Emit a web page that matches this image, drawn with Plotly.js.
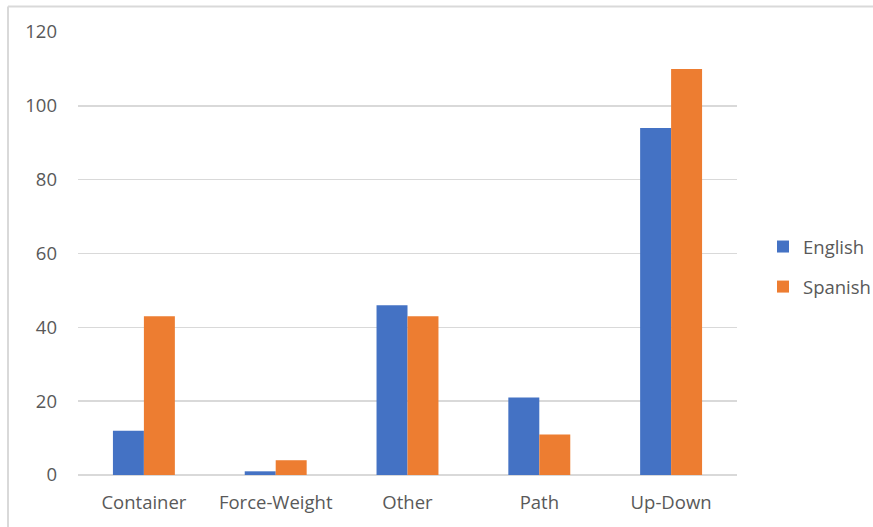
<!DOCTYPE html>
<html>
<head>
<meta charset="utf-8">
<script src="https://cdn.plot.ly/plotly-3.0.1.min.js"></script>
<style>
html, body { margin: 0; padding: 0; background: #fff; }
#chart { width: 873px; height: 527px; }
</style>
</head>
<body>
<div id="chart"></div>
<script>
const categories = ["Container", "Force-Weight", "Other", "Path", "Up-Down"];
const englishValues = [12, 1, 46, 21, 94];
const spanishValues = [43, 4, 43, 11, 110];
const yTicks = [0, 20, 40, 60, 80, 100, 120];

const W = 873, H = 527;
const L = 78, R = 737, T = 31.5, B = 475.5;
const px = x => (x - L) / (R - L);
const py = y => (B - y) / (B - T);

const textColor = "#595959";
const font = "Open Sans, Liberation Sans, Arial, sans-serif";
const fs = 18.5;

const data = [
  { type: "bar", name: "English", x: categories, y: englishValues,
    marker: { color: "#4472C4" }, legendgroup: "a", hoverinfo: "x+y+name" },
  { type: "bar", name: "Spanish", x: categories, y: spanishValues,
    marker: { color: "#ED7D31" }, legendgroup: "b", hoverinfo: "x+y+name" }
];

const layout = {
  width: W, height: H,
  margin: { l: L, r: W - R, t: T, b: H - B, pad: 0 },
  paper_bgcolor: "#fff", plot_bgcolor: "#fff",
  barmode: "group", bargap: 0.53, bargroupgap: 0,
  font: { family: font, size: fs, color: textColor },
  xaxis: {
    showgrid: false, zeroline: false, showline: false, ticks: "",
    tickfont: { family: font, size: fs, color: textColor },
    ticklabelstandoff: 14, fixedrange: true, automargin: false
  },
  yaxis: {
    range: [0, 120], tickvals: yTicks, ticktext: yTicks.map(String),
    showgrid: true, gridcolor: "#d9d9d9", gridwidth: 1.5,
    zeroline: true, zerolinecolor: "#d9d9d9", zerolinewidth: 1.5,
    showline: false, ticks: "",
    tickfont: { family: font, size: fs, color: textColor },
    ticklabelstandoff: 20, fixedrange: true, automargin: false
  },
  showlegend: true,
  legend: {
    xref: "container", yref: "container",
    x: 763 / W, y: 1 - 228 / H, xanchor: "left", yanchor: "top",
    traceorder: "grouped", tracegroupgap: 13,
    font: { family: font, size: fs, color: textColor },
    itemwidth: 30, bgcolor: "rgba(0,0,0,0)"
  },
  shapes: [
    { type: "line", xref: "paper", yref: "paper",
      x0: px(8), x1: px(8), y0: py(6), y1: py(540),
      line: { color: "#d9d9d9", width: 2 } },
    { type: "line", xref: "paper", yref: "paper",
      x0: px(8), x1: px(880), y0: py(6), y1: py(6),
      line: { color: "#d9d9d9", width: 2 } }
  ]
};

Plotly.newPlot("chart", data, layout, { displayModeBar: false, staticPlot: true });
</script>
</body>
</html>
